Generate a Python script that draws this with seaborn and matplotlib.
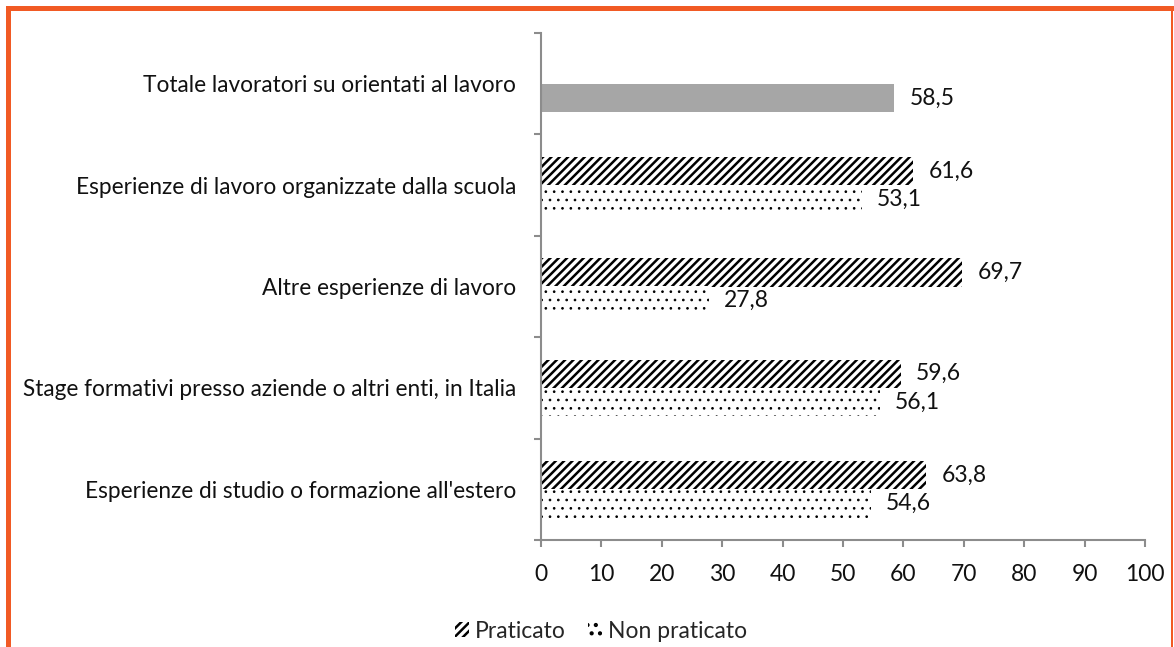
import numpy as np
import pandas as pd
import matplotlib
matplotlib.use("Agg")
import matplotlib.pyplot as plt
import seaborn as sns
from matplotlib.patches import Patch, Rectangle

# data
categories = [
    "Totale lavoratori su orientati al lavoro",
    "Esperienze di lavoro organizzate dalla scuola",
    "Altre esperienze di lavoro",
    "Stage formativi presso aziende o altri enti, in Italia",
    "Esperienze di studio o formazione all'estero",
]
series = ["Praticato", "Non praticato"]
praticato = [np.nan, 61.6, 69.7, 59.6, 63.8]
non_praticato = [58.5, 53.1, 27.8, 56.1, 54.6]
x_ticks = list(range(0, 101, 10))

df = pd.DataFrame({
    "categoria": categories * 2,
    "serie": [series[0]] * len(categories) + [series[1]] * len(categories),
    "valore": praticato + non_praticato,
})

sns.set_style("white")
plt.rcParams["font.family"] = ["Lato", "DejaVu Sans"]
plt.rcParams["hatch.linewidth"] = 1.8

axis_gray = "#8c8c8c"
orange = "#F15A24"
text_col = "#111111"

fig = plt.figure(figsize=(11.74, 6.47), dpi=100)
ax = fig.add_axes([541 / 1174, 1 - 540 / 647, 604 / 1174, 507 / 647])

sns.barplot(data=df, y="categoria", x="valore", hue="serie", order=categories,
            hue_order=series, orient="h", width=0.56, dodge=True,
            palette=["white", "white"], edgecolor="black", linewidth=0,
            errorbar=None, ax=ax)

hatches = {"Praticato": "////", "Non praticato": ".."}
hatch_lw = {"Praticato": 1.8, "Non praticato": 0.7}


def style_hatch(p, name):
    p.set_hatch(hatches[name])
    if hasattr(p, "set_hatch_linewidth"):
        p.set_hatch_linewidth(hatch_lw[name])


for cont, name in zip(ax.containers, series):
    labels = []
    for bar, v in zip(cont, cont.datavalues):
        style_hatch(bar, name)
        yc = bar.get_y() + bar.get_height() / 2
        if name == "Non praticato" and abs(yc - 0.14) < 0.2:
            # total bar drawn solid grey
            bar.set_hatch("")
            bar.set_facecolor("#a6a6a6")
        labels.append("" if np.isnan(v) else f"{v:.1f}".replace(".", ","))
    ax.bar_label(cont, labels=labels, padding=11, fontsize=16.5, color=text_col)

ax.legend_.remove()
handles = []
for s in series:
    h = Patch(facecolor="white", edgecolor="black", linewidth=0, label=s)
    style_hatch(h, s)
    handles.append(h)
fig.legend(handles=handles, loc="center", bbox_to_anchor=(601 / 1174, 1 - 631 / 647),
           ncol=2, frameon=False, fontsize=16.5, handlelength=0.6, handleheight=0.6,
           handletextpad=0.25, columnspacing=1.0)

ax.set_xlim(0, 100)
ax.set_ylim(len(categories) - 0.5, -0.5)
ax.set_xticks(x_ticks)
ax.set_yticks(range(len(categories)))
ax.set_yticklabels(categories)
ax.set_yticks(np.arange(-0.5, len(categories)), minor=True)
ax.set_xlabel("")
ax.set_ylabel("")
ax.tick_params(axis="y", which="major", length=0, pad=18, labelsize=16.3, labelcolor=text_col)
ax.tick_params(axis="y", which="minor", length=5, width=1.5, color=axis_gray, left=True)
ax.tick_params(axis="x", length=5, width=1.5, color=axis_gray, direction="out", bottom=True,
               pad=12, labelsize=16.5, labelcolor=text_col)
for side in ["top", "right"]:
    ax.spines[side].set_visible(False)
for side in ["left", "bottom"]:
    ax.spines[side].set_color(axis_gray)
    ax.spines[side].set_linewidth(1.5)

# orange frame round the figure
W, H = 1174, 647
fig.add_artist(Rectangle((6 / W, 1 - 11 / H), 1 - 6 / W, 5 / H, transform=fig.transFigure,
                         color=orange, lw=0))
fig.add_artist(Rectangle((6 / W, 0), 5 / W, 1 - 6 / H, transform=fig.transFigure,
                         color=orange, lw=0))
fig.add_artist(Rectangle((1171 / W, 0), 2 / W, 1 - 6 / H, transform=fig.transFigure,
                         color=orange, lw=0))

fig.savefig("out.png", dpi=100)
